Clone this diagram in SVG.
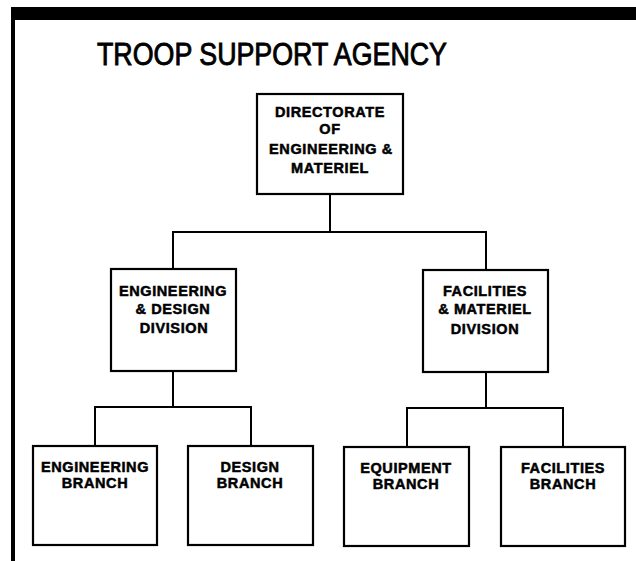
<svg xmlns="http://www.w3.org/2000/svg" width="636" height="561" viewBox="0 0 636 561">
<style>
.box{fill:#fff;stroke:#000;stroke-width:2.2}
.lbl{font-family:"Liberation Sans",Arial,sans-serif;font-weight:bold;font-size:14.5px;text-anchor:middle;fill:#000;stroke:#000;stroke-width:0.5;letter-spacing:0.6px}
.con{fill:none;stroke:#000;stroke-width:2}
.title{font-family:"Liberation Sans",Arial,sans-serif;font-size:31px;text-anchor:middle;fill:#000;stroke:#000;stroke-width:0.9}
</style>
<rect width="636" height="561" fill="#fff"/>
<rect x="11" y="7" width="625" height="13" fill="#000"/>
<rect x="11" y="7" width="4" height="554" fill="#000"/>
<text class="title" x="272" y="65" textLength="350" lengthAdjust="spacingAndGlyphs">TROOP SUPPORT AGENCY</text>
<g id="connectors">
<path class="con" d="M330 194V232M173 269V232H486V270"/>
<path class="con" d="M173 371V407M95 446V407H251V446"/>
<path class="con" d="M486 372V408M407 447V408H563V447"/>
</g>
<g id="directorate">
<rect class="box" x="257" y="94" width="146" height="100"/>
<text class="lbl" x="330" y="117">DIRECTORATE</text>
<text class="lbl" x="330" y="134">OF</text>
<text class="lbl" x="331" y="154">ENGINEERING &amp;</text>
<text class="lbl" x="330" y="173">MATERIEL</text>
</g>
<g id="eng-design-div">
<rect class="box" x="111" y="269" width="125" height="102"/>
<text class="lbl" x="173" y="296">ENGINEERING</text>
<text class="lbl" x="173" y="314">&amp; DESIGN</text>
<text class="lbl" x="174" y="333">DIVISION</text>
</g>
<g id="fac-mat-div">
<rect class="box" x="423" y="270" width="125" height="102"/>
<text class="lbl" x="485" y="296">FACILITIES</text>
<text class="lbl" x="485" y="314">&amp; MATERIEL</text>
<text class="lbl" x="485" y="334">DIVISION</text>
</g>
<g id="eng-branch">
<rect class="box" x="33" y="446" width="124" height="99"/>
<text class="lbl" x="95" y="472">ENGINEERING</text>
<text class="lbl" x="95" y="488">BRANCH</text>
</g>
<g id="design-branch">
<rect class="box" x="188" y="446" width="125" height="99"/>
<text class="lbl" x="250" y="472">DESIGN</text>
<text class="lbl" x="250" y="488">BRANCH</text>
</g>
<g id="equip-branch">
<rect class="box" x="344" y="447" width="125" height="99"/>
<text class="lbl" x="406" y="473">EQUIPMENT</text>
<text class="lbl" x="406" y="489">BRANCH</text>
</g>
<g id="fac-branch">
<rect class="box" x="501" y="447" width="124" height="99"/>
<text class="lbl" x="563" y="473">FACILITIES</text>
<text class="lbl" x="563" y="489">BRANCH</text>
</g>
</svg>
